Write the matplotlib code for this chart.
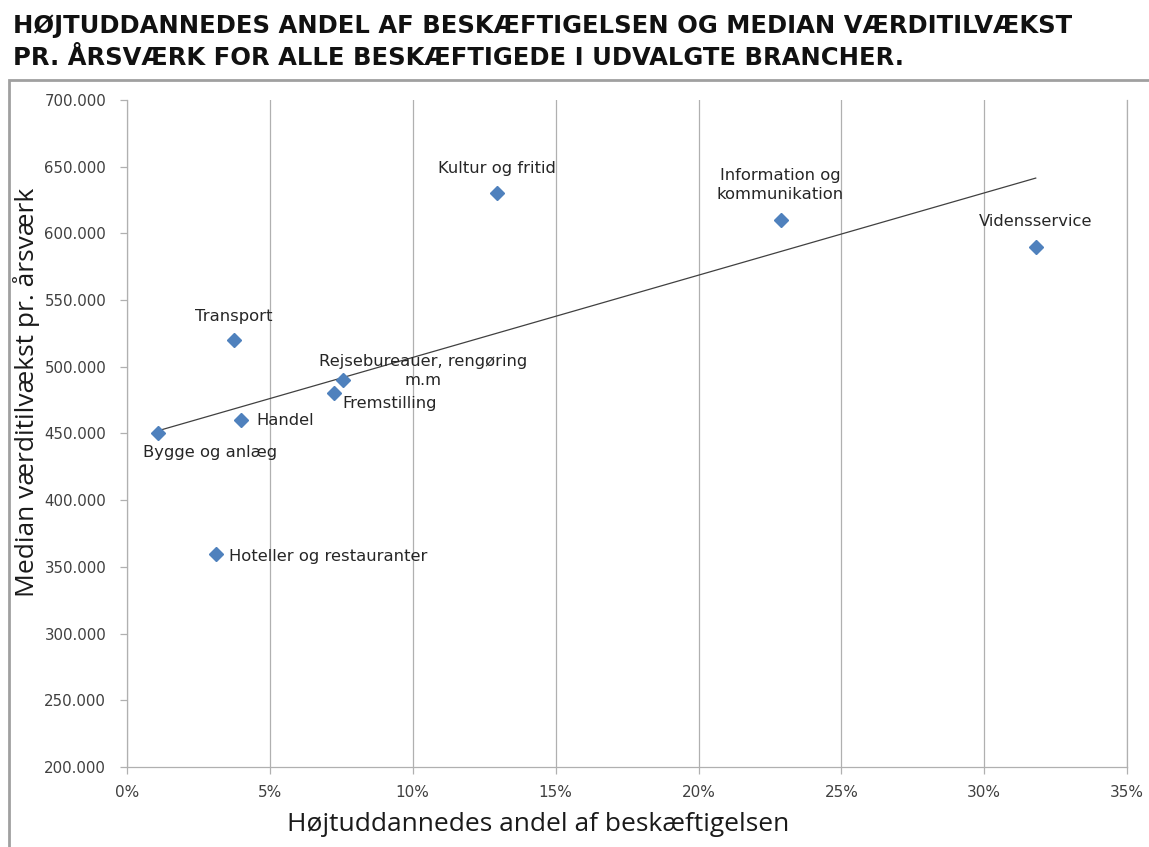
import numpy as np
import matplotlib
matplotlib.use("Agg")
import matplotlib.pyplot as plt
from matplotlib.ticker import FuncFormatter, MultipleLocator
from matplotlib.patches import Rectangle

# data
branches = ["Bygge og anlæg", "Transport", "Handel", "Hoteller og restauranter",
            "Fremstilling", "Rejsebureauer, rengøring\nm.m", "Kultur og fritid",
            "Information og\nkommunikation", "Vidensservice"]
share_pct = [1.1, 3.75, 4.0, 3.1, 7.25, 7.55, 12.95, 22.9, 31.8]
value_add = [450000, 520000, 460000, 360000, 480000, 490000, 630000, 610000, 590000]

# label offsets (points) and alignment per branch
label_pos = {
    "Bygge og anlæg": ((37, -14), "center"),
    "Transport": ((0, 17), "center"),
    "Handel": ((11, 0), "left"),
    "Hoteller og restauranter": ((10, -2), "left"),
    "Fremstilling": ((6, -7), "left"),
    "Rejsebureauer, rengøring\nm.m": ((58, 6.5), "center"),
    "Kultur og fritid": ((0, 18), "center"),
    "Information og\nkommunikation": ((-1, 25), "center"),
    "Vidensservice": ((0, 18), "center"),
}

title_lines = "HØJTUDDANNEDES ANDEL AF BESKÆFTIGELSEN OG MEDIAN VÆRDITILVÆKST\nPR. ÅRSVÆRK FOR ALLE BESKÆFTIGEDE I UDVALGTE BRANCHER."
xlabel = "Højtuddannedes andel af beskæftigelsen"
ylabel = "Median værditilvækst pr. årsværk"

plt.rcParams['font.family'] = ['DejaVu Sans']

fig = plt.figure(figsize=(11.49, 8.47), dpi=100)
ax = fig.add_axes([0.1105, 0.0945, 0.8705, 0.7875])

grid_col = "#b0b0b0"
x = np.array(share_pct)
y = np.array(value_add)

# linear trendline
k, m = np.polyfit(x, y, 1)
xs = np.array([x.min(), x.max()])
ax.plot(xs, k * xs + m, color="#404040", lw=0.9, zorder=2)

ax.plot(x, y, 'D', color="#4f81bd", ms=7, zorder=3)

for name, xi, yi in zip(branches, share_pct, value_add):
    off, ha = label_pos[name]
    ax.annotate(name, (xi, yi), xytext=off, textcoords="offset points",
                ha=ha, va="center", fontsize=11.8, color="#262626",
                linespacing=1.3, zorder=4)

ax.set_xlim(0, 35)
ax.set_ylim(200000, 700000)
ax.xaxis.set_major_locator(MultipleLocator(5))
ax.yaxis.set_major_locator(MultipleLocator(50000))
ax.xaxis.set_major_formatter(FuncFormatter(lambda v, p: f"{v:.0f}%"))
ax.yaxis.set_major_formatter(FuncFormatter(lambda v, p: f"{v:,.0f}".replace(",", ".")))
ax.grid(axis="x", color=grid_col, lw=0.9)
ax.set_axisbelow(True)
ax.spines["top"].set_visible(False)
for s in ["left", "bottom", "right"]:
    ax.spines[s].set_color(grid_col)
    ax.spines[s].set_linewidth(0.9)
ax.tick_params(axis="both", colors=grid_col, labelcolor="#404040",
               length=5, width=0.9)
ax.tick_params(axis="x", pad=8, labelsize=11)
ax.tick_params(axis="y", pad=10, labelsize=10.8)

ax.set_xlabel(xlabel, fontsize=19, family=["Open Sans", "DejaVu Sans"], color="#1a1a1a",
              va="center")
ax.set_ylabel(ylabel, fontsize=19, family=["Open Sans", "DejaVu Sans"], color="#1a1a1a",
              va="center")
ax.xaxis.set_label_coords(0.411, -0.087)
ax.yaxis.set_label_coords(-0.100, 0.562)

fig.text(0.011, 1 - 14 / 847, title_lines, ha="left", va="top", fontsize=17.5,
         fontweight="bold", linespacing=1.42, color="#111111")

# outer chart frame
fig.add_artist(Rectangle((0.008, -0.01), 1.0, 0.916, transform=fig.transFigure,
                         fill=False, edgecolor="#a0a0a0", lw=2))

fig.savefig("out.png", dpi=100)
